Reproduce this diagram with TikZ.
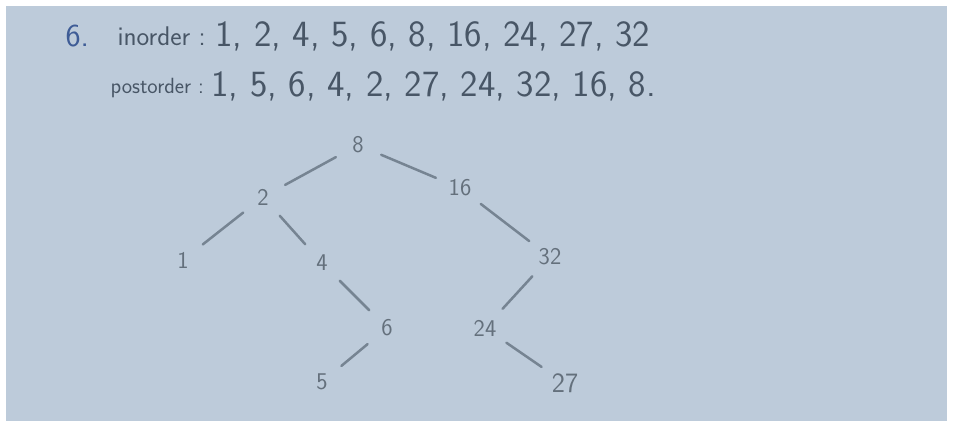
\documentclass[tikz,border=0pt]{standalone}
\usepackage{tikz}
\usetikzlibrary{positioning}
\definecolor{paper}{RGB}{189,203,218}
\definecolor{ink}{RGB}{72,86,102}
\definecolor{pencil}{RGB}{118,132,146}
\definecolor{blueink}{RGB}{62,92,150}

\begin{document}
\begin{tikzpicture}[x=1pt,y=-1pt,
  label/.style={anchor=base west,text=ink,font=\sffamily\fontsize{27}{27}\selectfont},
  seq/.style={anchor=base west,text=ink,font=\sffamily\fontsize{37}{37}\selectfont},
  key/.style={circle,inner sep=0pt,minimum size=26pt,text=pencil!85!black,font=\sffamily\fontsize{24}{24}\selectfont},
  link/.style={pencil,line width=2.5pt,line cap=round,shorten <=12pt,shorten >=12pt}]
% Paper
\fill[white] (0,0) rectangle (953,426);
\fill[paper] (6,6) rectangle (947,421);
\useasboundingbox (0,0) rectangle (953,426);
% Traversals
\node[label,text=blueink,font=\sffamily\fontsize{32}{32}\selectfont] (qnum) at (62,46) {6.};
\node[label] (inlabel) at (114,45) {inorder :};
\node[seq] (inseq) at (212,46) {1, 2, 4, 5, 6, 8, 16, 24, 27, 32};
\node[label,font=\sffamily\fontsize{22}{22}\selectfont] (postlabel) at (107,93) {postorder :};
\node[seq] (postseq) at (208,96) {1, 5, 6, 4, 2, 27, 24, 32, 16, 8.};
% Tree
\node[key] (n8) at (358,145) {8};
\node[key] (n2) at (263,197) {2};
\node[key] (n16) at (460,188) {16};
\node[key] (n1) at (183,260) {1};
\node[key] (n4) at (322,263) {4};
\node[key] (n32) at (550,257) {32};
\node[key] (n6) at (387,328) {6};
\node[key] (n24) at (485,328) {24};
\node[key] (n5) at (322,382) {5};
\node[key,font=\sffamily\fontsize{28}{28}\selectfont] (n27) at (565,383) {27};
% Edges
\draw[link] (n8) -- (n2);
\draw[link] (n8) -- (n16);
\draw[link] (n2) -- (n1);
\draw[link] (n2) -- (n4);
\draw[link] (n4) -- (n6);
\draw[link] (n6) -- (n5);
\draw[link] (n16) -- (n32);
\draw[link] (n32) -- (n24);
\draw[link] (n24) -- (n27);
\end{tikzpicture}
\end{document}
